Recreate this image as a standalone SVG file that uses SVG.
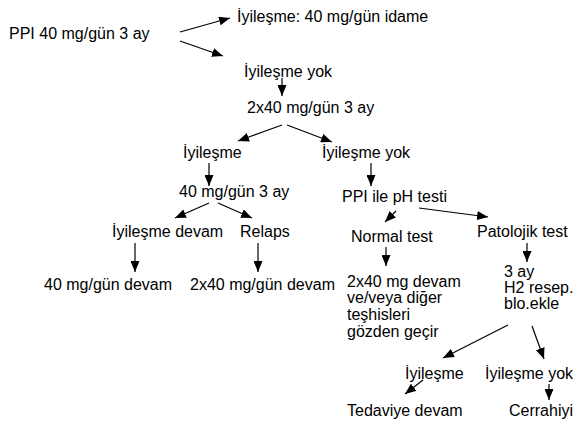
<svg xmlns="http://www.w3.org/2000/svg" width="574" height="422" viewBox="0 0 574 422">
<defs>
<style>
text{font-family:"Liberation Sans",Arial,sans-serif;font-size:16px;fill:#000}
.c path{stroke:#000;stroke-width:1.2;fill:none;marker-end:url(#ah)}
</style>
<marker id="ah" viewBox="0 0 11 9" refX="11" refY="4.5" markerWidth="11" markerHeight="9" markerUnits="userSpaceOnUse" orient="auto">
<path d="M0,0 L11,4.5 L0,9 z" fill="#000"/>
</marker>
</defs>
<rect width="574" height="422" fill="#fff"/>
<g id="n1"><text x="9" y="39">PPI 40 mg/gün 3 ay</text></g>
<g id="n2"><text x="237" y="22">İyileşme: 40 mg/gün idame</text></g>
<g id="n3"><text x="244" y="77">İyileşme yok</text></g>
<g id="n4"><text x="247" y="113">2x40 mg/gün 3 ay</text></g>
<g id="n5"><text x="183" y="158">İyileşme</text></g>
<g id="n6"><text x="322" y="158">İyileşme yok</text></g>
<g id="n7"><text x="179" y="197">40 mg/gün 3 ay</text></g>
<g id="n8"><text x="342" y="202">PPI ile pH testi</text></g>
<g id="n9"><text x="112" y="237">İyileşme devam</text></g>
<g id="n10"><text x="240" y="237">Relaps</text></g>
<g id="n11"><text x="351" y="242">Normal test</text></g>
<g id="n12"><text x="477" y="237">Patolojik test</text></g>
<g id="n13"><text x="44" y="290">40 mg/gün devam</text></g>
<g id="n14"><text x="190" y="290">2x40 mg/gün devam</text></g>
<g id="n15"><text x="347" y="287">2x40 mg devam</text><text x="347" y="303">ve/veya diğer</text><text x="347" y="320">teşhisleri</text><text x="347" y="337">gözden geçir</text></g>
<g id="n16"><text x="504" y="277">3 ay</text><text x="504" y="293">H2 resep.</text><text x="504" y="309">blo.ekle</text></g>
<g id="n17"><text x="405" y="379">İyileşme</text></g>
<g id="n18"><text x="485" y="379">İyileşme yok</text></g>
<g id="n19"><text x="347" y="416">Tedaviye devam</text></g>
<g id="n20"><text x="509" y="416">Cerrahiyi</text></g>
<g id="connectors" class="c">
<path d="M180,32 L230,18"/>
<path d="M180,41 L223,56"/>
<path d="M282,78 L282,96"/>
<path d="M282,125 L238,141"/>
<path d="M287,125 L332,142"/>
<path d="M209,163 L209,186"/>
<path d="M371,163 L371,186"/>
<path d="M209,203 L175,218"/>
<path d="M218,203 L252,218"/>
<path d="M135,243 L135,272"/>
<path d="M258,243 L258,272"/>
<path d="M396,211 L385,222"/>
<path d="M419,208 L488,217"/>
<path d="M386,247 L386,266"/>
<path d="M527,243 L527,262"/>
<path d="M508,325 L443,358"/>
<path d="M532,326 L544,359"/>
<path d="M423,380 L405,394"/>
<path d="M549,384 L549,400"/>
</g>
</svg>
